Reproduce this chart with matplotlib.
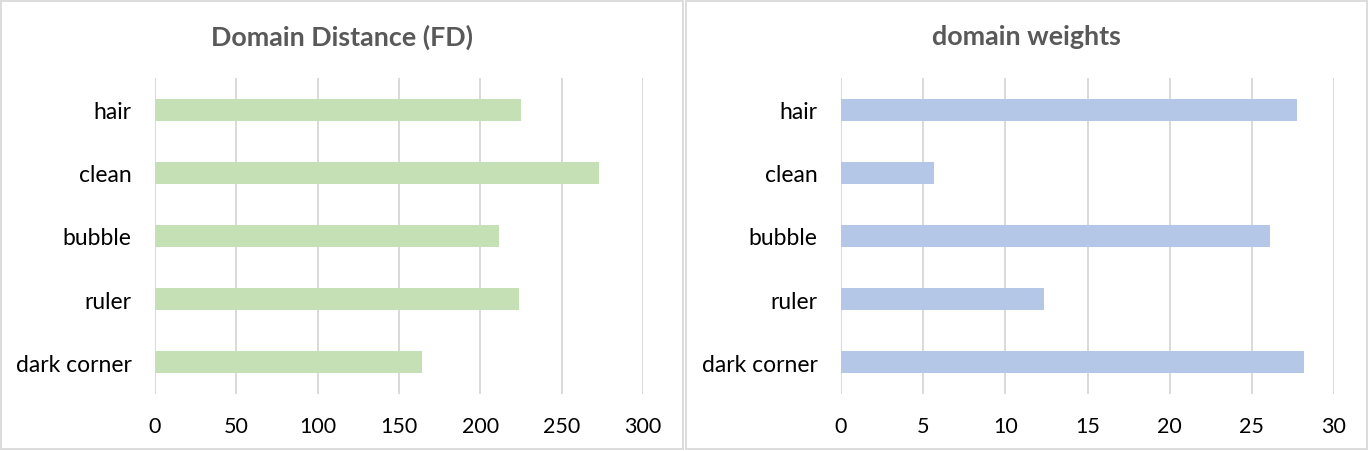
import matplotlib.pyplot as plt
from matplotlib.patches import Rectangle

categories = ["hair", "clean", "bubble", "ruler", "dark corner"]
fd_values = [225.0, 272.9, 211.5, 223.8, 164.1]
weight_values = [27.75, 5.66, 26.11, 12.36, 28.18]
fd_ticks = [0, 50, 100, 150, 200, 250, 300]
weight_ticks = [0, 5, 10, 15, 20, 25, 30]

W, H = 1368, 452
fig = plt.figure(figsize=(W / 100, H / 100), dpi=100)
plt.rcParams['font.family'] = ['Lato', 'DejaVu Sans']

grid_col = '#D9D9D9'

# panel frames (figure pixel coords -> fractions)
for x0, x1 in [(1, 683), (686, 1367)]:
    fig.patches.append(Rectangle((x0 / W, 2 / H), (x1 - x0) / W, (450 - 2) / H,
                                 transform=fig.transFigure, fill=False,
                                 edgecolor=grid_col, linewidth=1.3))


def draw_panel(left_px, right_px, values, ticks, color, title, panel_center):
    ax = fig.add_axes([left_px / W, 57 / H, (right_px - left_px) / W, 316 / H])
    ypos = range(len(categories))
    ax.barh(ypos, values, height=0.35, color=color, zorder=3)
    ax.set_xlim(ticks[0], ticks[-1])
    ax.set_ylim(len(categories) - 0.5, -0.5)
    ax.set_xticks(ticks)
    ax.set_xticklabels([str(t) for t in ticks])
    ax.set_yticks(list(ypos))
    ax.set_yticklabels(categories)
    ax.tick_params(axis='both', length=0, colors='black')
    ax.tick_params(axis='x', pad=16, labelsize=15.5)
    ax.tick_params(axis='y', pad=17, labelsize=16.5)
    ax.grid(axis='x', color=grid_col, linewidth=1.4, zorder=0)
    ax.set_axisbelow(True)
    for s in ax.spines.values():
        s.set_visible(False)
    fig.text(panel_center / W, 1 - 37 / H, title, ha='center', va='center',
             fontsize=19.4, fontweight='bold', color='#595959')
    return ax


draw_panel(155, 643, fd_values, fd_ticks, '#C5E0B4', 'Domain Distance (FD)', 342)
draw_panel(841, 1334, weight_values, weight_ticks, '#B4C7E7', 'domain weights', 1026.5)

fig.savefig('out.png', dpi=100)
